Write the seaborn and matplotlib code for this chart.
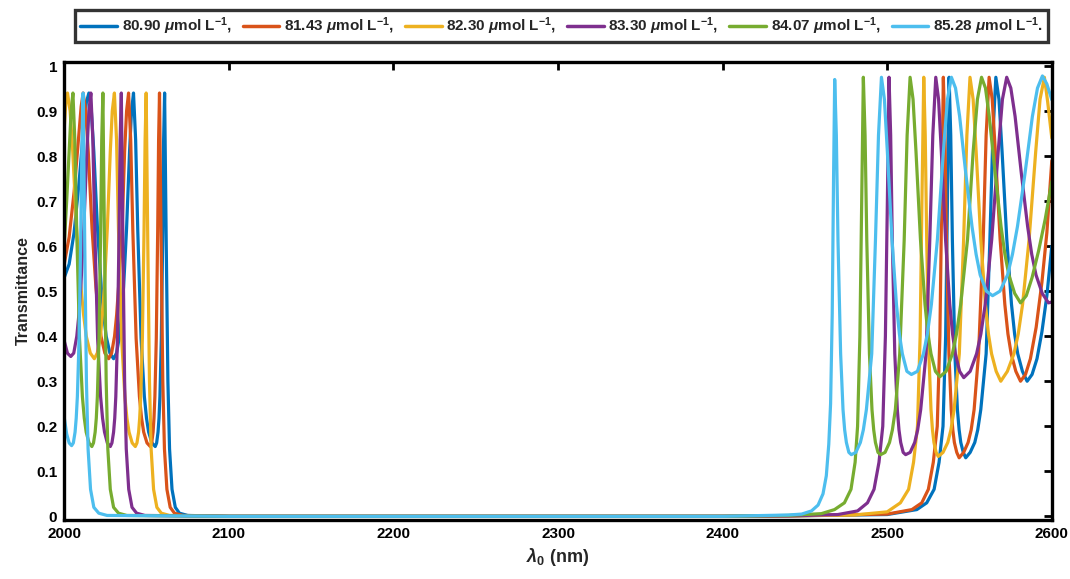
"""Transmittance spectra of the 1D photonic crystal for six analyte concentrations."""

import matplotlib

matplotlib.use("Agg")
import matplotlib.pyplot as plt
import seaborn as sns


# (wavelength nm, transmittance)
BLUE = [
    (2000, 0.53), (2003, 0.56), (2006, 0.63), (2009, 0.74), (2011.5, 0.85), (2013.5, 0.92), (2015, 0.94),
    (2016.5, 0.90), (2018, 0.81), (2020.2, 0.64), (2022.5, 0.51), (2024, 0.447), (2025.5, 0.40),
    (2027.75, 0.3625), (2030, 0.35), (2031.8, 0.3625), (2033.6, 0.40), (2034.8, 0.447),
    (2036.1, 0.51), (2037.9, 0.64), (2039.7, 0.81), (2040.9, 0.90), (2042.1, 0.94),
    (2043.4, 0.836), (2044.7, 0.634), (2046.7, 0.395), (2048.7, 0.266), (2050.0, 0.218), (2051.3, 0.187),
    (2053.3, 0.163), (2055.3, 0.155), (2056.15, 0.163), (2057, 0.187), (2057.6, 0.218), (2058.15, 0.266),
    (2059, 0.395), (2059.9, 0.634), (2060.4, 0.836), (2061, 0.94),
    (2062, 0.60), (2063, 0.30), (2064, 0.15), (2065.5, 0.06), (2067.5, 0.02), (2070, 0.007), (2075, 0.002),
    (2100, 0), (2200, 0), (2300, 0), (2400, 0), (2440, 0.001), (2500, 0.004), (2518, 0.015), (2524, 0.03),
    (2528.5, 0.06), (2531.5, 0.12), (2533.9, 0.2), (2535.5, 0.4), (2536.6, 0.7), (2537.6, 0.975),
    (2538.6, 0.846), (2539.6, 0.612), (2541.1, 0.361), (2542.65, 0.237), (2543.7, 0.192), (2544.7, 0.164),
    (2546.2, 0.142), (2547.7, 0.13), (2550.4, 0.142), (2553.2, 0.164), (2555.0, 0.192), (2556.85, 0.237),
    (2560.1, 0.361), (2562.35, 0.612), (2564.2, 0.846), (2566, 0.975),
    (2567.9, 0.926), (2569.8, 0.809), (2572.65, 0.615), (2575.5, 0.471), (2577.4, 0.405), (2579.3, 0.361),
    (2582.15, 0.322), (2585, 0.30), (2588, 0.315), (2591, 0.35), (2594, 0.41), (2597, 0.49), (2600, 0.60),
]

ORANGE = [
    (2000, 0.56), (2003, 0.62), (2006, 0.72), (2008.5, 0.83), (2010.3, 0.91), (2011.5, 0.94),
    (2013.05, 0.90), (2014.6, 0.81), (2016.9, 0.64), (2019.25, 0.51), (2020.8, 0.447), (2022.35, 0.40),
    (2024.7, 0.3625), (2027, 0.35), (2028.8, 0.3625), (2030.6, 0.40), (2031.85, 0.447),
    (2033.05, 0.51), (2035.2, 0.64), (2036.7, 0.81), (2037.9, 0.90), (2039.1, 0.94),
    (2040.4, 0.836), (2041.7, 0.634), (2043.7, 0.395), (2045.7, 0.266), (2047.0, 0.218), (2048.3, 0.187),
    (2050.3, 0.163), (2052.3, 0.155), (2053.15, 0.163), (2054.0, 0.187), (2054.55, 0.218), (2055.1, 0.266),
    (2055.95, 0.395), (2056.8, 0.634), (2057.35, 0.836), (2057.9, 0.94),
    (2058.9, 0.60), (2059.9, 0.30), (2060.9, 0.15), (2062.4, 0.06), (2064.4, 0.02), (2067, 0.007), (2072, 0.002),
    (2100, 0), (2200, 0), (2300, 0), (2400, 0), (2440, 0.001), (2500, 0.005), (2515, 0.015), (2521, 0.03),
    (2525, 0.06), (2528, 0.12), (2530.4, 0.2), (2532, 0.4), (2533.1, 0.7), (2534.1, 0.975),
    (2535.05, 0.846), (2536, 0.612), (2537.5, 0.361), (2538.9, 0.237), (2539.85, 0.192), (2540.8, 0.164),
    (2542.25, 0.142), (2543.7, 0.13), (2546.45, 0.142), (2549.15, 0.164), (2551.0, 0.192), (2552.8, 0.237),
    (2555.5, 0.361), (2558.3, 0.612), (2560.1, 0.846), (2561.9, 0.975),
    (2563.8, 0.926), (2565.7, 0.809), (2568.6, 0.615), (2571.45, 0.471), (2573.35, 0.405), (2575.3, 0.361),
    (2578.15, 0.322), (2581, 0.30), (2584, 0.315), (2587, 0.35), (2590.5, 0.42), (2594, 0.52), (2597, 0.63),
    (2600, 0.79),
]

YELLOW = [
    (2000, 0.86), (2001, 0.92), (2002, 0.94),
    (2003.6, 0.90), (2005.2, 0.81), (2007.5, 0.64), (2010.15, 0.51), (2011.8, 0.447), (2013.4, 0.40),
    (2015.85, 0.3625), (2018.3, 0.35), (2020.1, 0.3625), (2022.0, 0.40), (2023.2, 0.447),
    (2024.4, 0.51), (2026.2, 0.64), (2028.0, 0.81), (2029.2, 0.90), (2030.5, 0.94),
    (2031.8, 0.836), (2033.0, 0.634), (2034.9, 0.395), (2036.85, 0.266), (2038.1, 0.218), (2039.4, 0.187),
    (2041.3, 0.163), (2043.2, 0.155), (2044.2, 0.163), (2045.2, 0.187), (2045.85, 0.218), (2046.5, 0.266),
    (2047.5, 0.395), (2048.5, 0.634), (2049.15, 0.836), (2049.8, 0.94),
    (2050.8, 0.60), (2051.8, 0.30), (2052.8, 0.15), (2054.3, 0.06), (2056.3, 0.02), (2059, 0.007), (2064, 0.002),
    (2100, 0), (2200, 0), (2300, 0), (2400, 0), (2440, 0.001), (2480, 0.003), (2500, 0.01), (2508, 0.03),
    (2513, 0.06), (2516, 0.12), (2518.4, 0.2), (2520, 0.4), (2521.1, 0.7), (2522.2, 0.975),
    (2523.1, 0.846), (2524, 0.612), (2525.3, 0.361), (2526.6, 0.237), (2527.5, 0.192), (2528.4, 0.164),
    (2529.7, 0.142), (2531, 0.133), (2533.9, 0.142), (2536.8, 0.164), (2538.7, 0.192), (2540.65, 0.237),
    (2543.8, 0.361), (2546.4, 0.612), (2548.4, 0.846), (2550.3, 0.975),
    (2552.2, 0.926), (2554.05, 0.809), (2556.85, 0.615), (2559.65, 0.471), (2561.5, 0.405), (2563.4, 0.361),
    (2566.2, 0.322), (2569, 0.30), (2573, 0.322), (2577, 0.361), (2579.6, 0.405), (2582.25, 0.471),
    (2586.2, 0.615), (2590.2, 0.809), (2592.85, 0.926), (2595.5, 0.975),
    (2597.5, 0.92), (2600, 0.84),
]

PURPLE = [
    (2000, 0.39), (2002, 0.362), (2004, 0.355), (2005.8, 0.3625), (2007.65, 0.40), (2008.9, 0.447),
    (2010.1, 0.51), (2011.9, 0.64), (2013.8, 0.81), (2015.0, 0.90), (2016.2, 0.94),
    (2017.4, 0.836), (2018.6, 0.634), (2020.3, 0.395), (2022.1, 0.266), (2023.3, 0.218), (2024.5, 0.187),
    (2026.2, 0.163), (2028, 0.155), (2029.0, 0.163), (2030.0, 0.187), (2030.7, 0.218), (2031.35, 0.266),
    (2032.35, 0.395), (2033.35, 0.634), (2034.0, 0.836), (2034.7, 0.94),
    (2035.7, 0.60), (2036.7, 0.30), (2037.7, 0.15), (2039.2, 0.06), (2041.2, 0.02), (2044, 0.007), (2049, 0.002),
    (2100, 0), (2200, 0), (2300, 0), (2400, 0), (2440, 0.001), (2470, 0.004), (2482, 0.012), (2488, 0.03),
    (2492, 0.06), (2495, 0.12), (2497.3, 0.2), (2498.9, 0.4), (2500.1, 0.7), (2501.1, 0.975),
    (2502.1, 0.846), (2503.1, 0.612), (2504.6, 0.361), (2506.15, 0.237), (2507.15, 0.192), (2508.2, 0.164),
    (2509.7, 0.142), (2511.2, 0.137), (2513.95, 0.142), (2516.7, 0.164), (2518.5, 0.192), (2520.35, 0.237),
    (2523.6, 0.361), (2525.85, 0.612), (2527.7, 0.846), (2529.5, 0.975),
    (2531.2, 0.926), (2532.9, 0.809), (2535.45, 0.615), (2538, 0.471), (2539.7, 0.405), (2541.4, 0.361),
    (2544, 0.322), (2546.5, 0.308), (2550.4, 0.322), (2554.3, 0.361), (2556.9, 0.405), (2559.55, 0.471),
    (2563.5, 0.615), (2567.4, 0.809), (2570, 0.926), (2572.6, 0.975),
    (2575.1, 0.951), (2577.7, 0.888), (2581.5, 0.761), (2585.3, 0.644), (2587.8, 0.582), (2590.4, 0.536),
    (2594.2, 0.495), (2598, 0.474), (2600, 0.476),
]

GREEN = [
    (2000, 0.60), (2001.5, 0.70), (2003, 0.81), (2004.2, 0.90), (2005.3, 0.94),
    (2006.45, 0.836), (2007.6, 0.634), (2009.3, 0.395), (2011.05, 0.266), (2012.2, 0.218), (2013.35, 0.187),
    (2015.1, 0.163), (2016.8, 0.155), (2017.8, 0.163), (2018.8, 0.187), (2019.5, 0.218), (2020.15, 0.266),
    (2021.15, 0.395), (2022.15, 0.634), (2022.8, 0.836), (2023.5, 0.94),
    (2024.5, 0.60), (2025.5, 0.30), (2026.5, 0.15), (2028, 0.06), (2030, 0.02), (2033, 0.007), (2038, 0.002),
    (2100, 0), (2200, 0), (2300, 0), (2400, 0), (2440, 0.002), (2460, 0.006), (2468, 0.015), (2474, 0.03),
    (2478, 0.06), (2480.5, 0.12), (2482, 0.2), (2483.4, 0.4), (2484.5, 0.7), (2485.5, 0.975),
    (2486.55, 0.846), (2487.6, 0.612), (2489.2, 0.361), (2490.75, 0.237), (2491.8, 0.192), (2492.85, 0.164),
    (2494.4, 0.142), (2496, 0.137), (2498.7, 0.142), (2501.4, 0.164), (2503.15, 0.192), (2504.95, 0.237),
    (2507.6, 0.361), (2510.3, 0.612), (2512.1, 0.846), (2513.9, 0.975),
    (2515.7, 0.926), (2517.5, 0.809), (2520.2, 0.615), (2522.95, 0.471), (2524.75, 0.405), (2526.6, 0.361),
    (2529.3, 0.322), (2532, 0.31), (2535.8, 0.322), (2539.6, 0.361), (2542.1, 0.405), (2544.65, 0.471),
    (2548.8, 0.615), (2552.2, 0.809), (2554.8, 0.926), (2557.3, 0.975),
    (2559.7, 0.951), (2562.0, 0.888), (2565.6, 0.761), (2569.15, 0.644), (2571.5, 0.582), (2573.9, 0.536),
    (2577.45, 0.495), (2581, 0.474), (2584.5, 0.49), (2588, 0.53), (2592, 0.59), (2596, 0.66), (2600, 0.744),
]

CYAN = [
    (2000, 0.22), (2001.5, 0.183), (2003, 0.163), (2004.5, 0.157), (2005.55, 0.163), (2006.6, 0.187),
    (2007.3, 0.218), (2008, 0.266), (2009.05, 0.395), (2010.1, 0.634), (2010.8, 0.836), (2011.5, 0.94),
    (2012.5, 0.60), (2013.5, 0.30), (2014.5, 0.15), (2016, 0.06), (2018, 0.02), (2021, 0.007), (2026, 0.002),
    (2100, 0), (2200, 0), (2300, 0), (2400, 0), (2440, 0.003), (2448, 0.005), (2454, 0.012), (2458, 0.025),
    (2461, 0.05), (2463, 0.09), (2464.5, 0.16), (2465.6, 0.25), (2466.6, 0.45), (2467.4, 0.75), (2468.1, 0.97),
    (2469.1, 0.846), (2470.1, 0.612), (2471.7, 0.361), (2473.15, 0.237), (2474.15, 0.192), (2475.2, 0.164),
    (2476.7, 0.142), (2478.2, 0.137), (2480.95, 0.142), (2483.7, 0.164), (2485.5, 0.192), (2487.35, 0.237),
    (2490.6, 0.361), (2492.85, 0.612), (2494.7, 0.846), (2496.5, 0.975),
    (2498.3, 0.926), (2500.1, 0.809), (2502.9, 0.615), (2505.6, 0.471), (2507.4, 0.405), (2509.2, 0.361),
    (2511.95, 0.322), (2514.7, 0.315), (2518.35, 0.322), (2522.0, 0.361), (2524.4, 0.405), (2526.85, 0.471),
    (2530.5, 0.615), (2534.1, 0.809), (2536.6, 0.926), (2539, 0.975),
    (2541.5, 0.951), (2544, 0.888), (2547.75, 0.761), (2551.5, 0.644), (2554, 0.582), (2556.5, 0.536),
    (2560.25, 0.50), (2564, 0.49), (2568.5, 0.50), (2573.1, 0.536), (2576.1, 0.582), (2579.15, 0.644),
    (2583.7, 0.761), (2588.2, 0.888), (2591.3, 0.951), (2594.3, 0.978),
    (2597, 0.96), (2600, 0.925),
]

LABELS = ["80.90", "81.43", "82.30", "83.30", "84.07", "85.28"]
SERIES = [BLUE, ORANGE, YELLOW, PURPLE, GREEN, CYAN]
COLORS = ["#0072BD", "#D95319", "#EDB120", "#7E2F8E", "#77AC30", "#4DBEEE"]
X_TICKS = [2000, 2100, 2200, 2300, 2400, 2500, 2600]
Y_TICKS = [0, 0.1, 0.2, 0.3, 0.4, 0.5, 0.6, 0.7, 0.8, 0.9, 1]

sns.set_theme(style="white")
plt.rcParams["font.family"] = ["Liberation Sans", "DejaVu Sans"]
plt.rcParams["font.weight"] = "bold"
plt.rcParams["mathtext.fontset"] = "custom"
plt.rcParams["mathtext.rm"] = "Liberation Sans:bold"
plt.rcParams["mathtext.it"] = "Liberation Sans:italic:bold"
plt.rcParams["mathtext.bf"] = "Liberation Sans:bold"

fig = plt.figure(figsize=(10.7, 5.79), dpi=100)
ax = fig.add_axes([0.060, 0.102, 0.923, 0.791])

for index, (points, conc, color) in enumerate(zip(SERIES, LABELS, COLORS)):
    lam = [p[0] for p in points]
    trans = [p[1] for p in points]
    end = "." if index == len(LABELS) - 1 else ","
    sns.lineplot(x=lam, y=trans, color=color, linewidth=2.3, ax=ax,
                 label=rf"{conc} $\mu$mol L$^{{-1}}${end}")

ax.set_xlim(2000, 2600)
ax.set_ylim(-0.008, 1.009)
ax.set_xticks(X_TICKS)
ax.set_yticks(Y_TICKS)
ax.set_yticklabels(["0", "0.1", "0.2", "0.3", "0.4", "0.5", "0.6", "0.7", "0.8", "0.9", "1"])
ax.tick_params(direction="in", length=6, width=2, top=True, right=True,
               labelsize=11, colors="black", pad=5)
for label in ax.get_xticklabels() + ax.get_yticklabels():
    label.set_fontweight("bold")
for spine in ax.spines.values():
    spine.set_linewidth(2.4)
    spine.set_color("black")
ax.set_xlabel(r"$\lambda_0$ (nm)", fontsize=13, fontweight="bold", labelpad=4)
ax.set_ylabel("Transmittance", fontsize=11.5, fontweight="bold", labelpad=4)

handles, labels = ax.get_legend_handles_labels()
legend = ax.legend(handles, labels, ncol=6, loc="center", bbox_to_anchor=(0.525, 0.955),
                   bbox_transform=fig.transFigure, frameon=True, fancybox=False,
                   edgecolor="black", handlelength=2.4, handletextpad=0.3,
                   columnspacing=0.7, borderpad=0.35, prop={"weight": "bold", "size": 11})
legend.get_frame().set_linewidth(2.4)
for line in legend.get_lines():
    line.set_linewidth(2.5)

fig.savefig("out.png", dpi=100)
